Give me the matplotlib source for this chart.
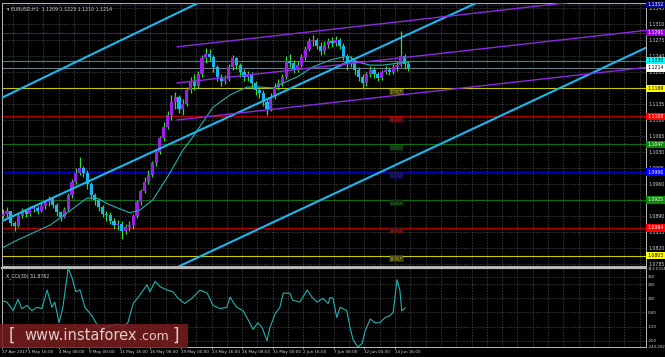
import matplotlib
matplotlib.use("Agg")
import matplotlib.pyplot as plt
import matplotlib.transforms as mtransforms
from matplotlib.patches import Rectangle

plt.rcParams["font.family"] = ["DejaVu Sans"]

BG = "#000000"
COL_GRID = "#505050"
COL_FRAME = "#b8b8b8"
COL_TEXT = "#d4d4d4"
COL_UP = "#9b1fe8"
COL_DN = "#1ab4f2"
COL_WICK = "#2ee02e"
COL_MA = "#22b2b2"
COL_CHAN = "#1ab8f0"
COL_PURP = "#8a2be2"

# EURUSD H1, grouped in 8-hour blocks (x = H1 bar index)
first_open = 1.0890
closes = [1.0895, 1.0900, 1.0875, 1.0868, 1.0890, 1.0900, 1.0895, 1.0905, 1.0908, 1.0902,
          1.0912, 1.0920, 1.0928, 1.0915, 1.0898, 1.0888, 1.0905, 1.0935, 1.0965, 1.0985,
          1.0995, 1.0985, 1.0960, 1.0935, 1.0925, 1.0910, 1.0895, 1.0892, 1.0880, 1.0870,
          1.0872, 1.0858, 1.0865, 1.0870, 1.0890, 1.0920, 1.0945, 1.0965, 1.0980, 1.1005,
          1.1030, 1.1060, 1.1085, 1.1110, 1.1140, 1.1150, 1.1125, 1.1135, 1.1165, 1.1185,
          1.1175, 1.1200, 1.1235, 1.1245, 1.1238, 1.1215, 1.1195, 1.1185, 1.1190, 1.1215,
          1.1235, 1.1220, 1.1205, 1.1195, 1.1200, 1.1180, 1.1165, 1.1158, 1.1140, 1.1125,
          1.1150, 1.1172, 1.1180, 1.1195, 1.1230, 1.1225, 1.1210, 1.1220, 1.1238, 1.1255,
          1.1272, 1.1275, 1.1262, 1.1250, 1.1265, 1.1272, 1.1268, 1.1275, 1.1262, 1.1240,
          1.1225, 1.1230, 1.1210, 1.1195, 1.1180, 1.1200, 1.1210, 1.1200, 1.1192, 1.1205,
          1.1210, 1.1205, 1.1215, 1.1220, 1.1240, 1.1222, 1.1214]
highs = [1.0905, 1.0910, 1.0902, 1.0880, 1.0896, 1.0908, 1.0906, 1.0912, 1.0915, 1.0912,
         1.0918, 1.0926, 1.0934, 1.0930, 1.0918, 1.0902, 1.0910, 1.0940, 1.0970, 1.0995,
         1.1020, 1.1000, 1.0990, 1.0965, 1.0940, 1.0930, 1.0915, 1.0900, 1.0898, 1.0885,
         1.0882, 1.0878, 1.0872, 1.0878, 1.0895, 1.0925, 1.0950, 1.0975, 1.0990, 1.1010,
         1.1036, 1.1065, 1.1095, 1.1120, 1.1155, 1.1162, 1.1155, 1.1145, 1.1172, 1.1195,
         1.1200, 1.1208, 1.1242, 1.1257, 1.1255, 1.1242, 1.1220, 1.1200, 1.1198, 1.1222,
         1.1242, 1.1238, 1.1225, 1.1212, 1.1208, 1.1205, 1.1185, 1.1172, 1.1165, 1.1148,
         1.1158, 1.1180, 1.1190, 1.1200, 1.1240, 1.1245, 1.1232, 1.1228, 1.1245, 1.1262,
         1.1280, 1.1286, 1.1280, 1.1270, 1.1272, 1.1280, 1.1282, 1.1284, 1.1280, 1.1268,
         1.1245, 1.1240, 1.1232, 1.1215, 1.1200, 1.1206, 1.1218, 1.1215, 1.1205, 1.1210,
         1.1218, 1.1215, 1.1222, 1.1226, 1.1295, 1.1245, 1.1230]
lows = [1.0885, 1.0888, 1.0868, 1.0858, 1.0865, 1.0885, 1.0888, 1.0890, 1.0898, 1.0895,
        1.0898, 1.0905, 1.0912, 1.0908, 1.0890, 1.0880, 1.0885, 1.0900, 1.0930, 1.0960,
        1.0980, 1.0975, 1.0950, 1.0928, 1.0915, 1.0900, 1.0888, 1.0880, 1.0872, 1.0862,
        1.0860, 1.0840, 1.0850, 1.0858, 1.0862, 1.0885, 1.0915, 1.0940, 1.0960, 1.0975,
        1.1000, 1.1025, 1.1055, 1.1080, 1.1100, 1.1125, 1.1115, 1.1110, 1.1130, 1.1160,
        1.1165, 1.1170, 1.1195, 1.1225, 1.1228, 1.1205, 1.1185, 1.1175, 1.1178, 1.1185,
        1.1210, 1.1212, 1.1195, 1.1185, 1.1185, 1.1170, 1.1155, 1.1148, 1.1130, 1.1111,
        1.1120, 1.1145, 1.1165, 1.1175, 1.1190, 1.1215, 1.1202, 1.1205, 1.1215, 1.1232,
        1.1250, 1.1262, 1.1255, 1.1242, 1.1245, 1.1258, 1.1260, 1.1262, 1.1255, 1.1232,
        1.1210, 1.1215, 1.1198, 1.1185, 1.1168, 1.1175, 1.1195, 1.1192, 1.1185, 1.1188,
        1.1200, 1.1198, 1.1200, 1.1208, 1.1215, 1.1212, 1.1208]

ma_bars = [10, 41, 110, 146, 187, 208, 236, 277, 298, 325, 361, 388, 409, 451, 487,
           522, 549, 577, 598, 627, 660, 696, 723, 738, 752, 780, 807, 842, 860]
ma_vals = [1.0820, 1.0837, 1.0870, 1.0897, 1.0929, 1.0929, 1.0914, 1.0897, 1.0903, 1.0925,
           1.0984, 1.1034, 1.1063, 1.1128, 1.1155, 1.1172, 1.1172, 1.1170, 1.1181, 1.1194,
           1.1216, 1.1231, 1.1238, 1.1238, 1.1227, 1.1220, 1.1220, 1.1225, 1.1225]

cci_bars = [10, 20, 33, 43, 51, 62, 72, 83, 93, 104, 114, 120, 129, 137, 148, 156, 164, 173,
            183, 198, 210, 221, 236, 250, 263, 273, 284, 298, 313, 319, 330, 340, 355, 367,
            378, 392, 407, 424, 439, 451, 466, 480, 487, 493, 501, 514, 522, 535, 545, 554,
            564, 570, 581, 591, 598, 612, 618, 633, 648, 658, 669, 681, 692, 696, 702, 710,
            717, 723, 731, 738, 744, 754, 763, 769, 780, 790, 800, 811, 821, 828, 836, 842,
            846, 853]
cci_vals = [82, 73, 12, 93, 27, 49, 12, 36, 27, 158, 36, 73, -73, 36, 313, 245, 146, 158,
            36, -24, -97, -109, -97, -83, -97, -73, 63, 122, 195, 146, 219, 182, 158, 146,
            100, 63, 100, 158, 136, 49, 27, 36, 109, 73, 36, 12, -36, -119, -73, -109,
            -200, -109, -10, 36, 136, 136, 85, 73, 158, 109, 73, 100, 63, 105, 100, -36,
            36, 27, 12, -109, -192, -244, -219, -134, -46, -73, -73, -36, -24, 0, 231, 158,
            12, 32]

# Murray levels
levels = [1.0803, 1.0864, 1.0925, 1.0986, 1.1047, 1.1108, 1.1169, 1.1230, 1.1291, 1.1352]
level_names = ["[1/8]P", "[2/8]P", "[3/8]P", "[4/8]P", "[5/8]P", "[6/8]P", "[7/8]P",
               "[8/8]P", "[+1/8]P", "[+2/8]P"]
level_line = ["#c8c800", "#b40000", "#106e10", "#0000c8", "#106e10", "#b40000", "#c8c800",
              "#00a0a0", "#4a1478", "#12126e"]
level_box = ["#ffff00", "#ff0000", "#0a8a0a", "#0000ff", "#0a8a0a", "#ff0000", "#ffff00",
             "#00ffff", "#9400d3", "#00008b"]
level_txt = ["#000000", "#ffffff", "#ffffff", "#ffffff", "#ffffff", "#ffffff", "#000000",
             "#000000", "#ffffff", "#ffffff"]
price_now = 1.1214

# channel anchors (bar, price)
blue_lines = [((10, 1.1149), (434, 1.1363)),
              ((10, 1.0879), (842, 1.1279)),
              ((378, 1.0779), (1357, 1.1258))]
purple_lines = [((376, 1.1260), (1357, 1.1376)),
                ((376, 1.1181), (1357, 1.1296)),
                ((376, 1.1100), (1357, 1.1215))]

price_ticks = [1.0785, 1.0820, 1.0855, 1.0890, 1.0925, 1.0960, 1.0995, 1.1030, 1.1065,
               1.1100, 1.1135, 1.1170, 1.1205, 1.1240, 1.1275, 1.1310, 1.1345]
cci_ticks = [313.5314, 250, 200, 100, 0, -100, -200, -244.202]
cci_labels = ["313.5314", "250", "200", "100", "0.00", "-100", "-200", "-244.202"]
time_bars = [10, 64, 128, 192, 256, 320, 384, 448, 512, 576, 640, 704, 768, 832]
time_labels = ["27 Apr 2017", "1 May 16:00", "4 May 08:00", "9 May 00:00", "11 May 16:00",
               "16 May 08:00", "19 May 00:00", "23 May 16:00", "26 May 08:00",
               "31 May 00:00", "2 Jun 16:00", "7 Jun 08:00", "12 Jun 00:00", "14 Jun 16:00"]

W, H = 665, 357
fig = plt.figure(figsize=(W / 100, H / 100), dpi=100, facecolor=BG)
ax = fig.add_axes([2 / W, (H - 266) / H, 644 / W, 263 / H], facecolor=BG)
axc = fig.add_axes([2 / W, (H - 347) / H, 644 / W, 79 / H], facecolor=BG, sharex=ax)

XMIN, XMAX = 9.6, 1357
ax.set_xlim(XMIN, XMAX)
ax.set_ylim(1.07806, 1.13559)

# grid
grid_x = list(range(32, 1357, 32))
for a in (ax, axc):
    for gx in grid_x:
        a.axvline(gx, color=COL_GRID, lw=0.5, ls=(0, (2, 2)), zorder=0)
    for s in a.spines.values():
        s.set_color(COL_FRAME)
        s.set_linewidth(0.7)
for t in price_ticks:
    ax.axhline(t, color=COL_GRID, lw=0.5, ls=(0, (2, 2)), zorder=0)

# level lines
for v, c in zip(levels, level_line):
    ax.axhline(v, color=c, lw=0.8, zorder=1)
ax.axhline(price_now, color="#6e7a86", lw=0.8, zorder=1)

# channels
for p1, p2 in blue_lines:
    ax.axline(p1, p2, color=COL_CHAN, lw=1.5, zorder=4)
for p1, p2 in purple_lines:
    ax.plot([p1[0], p2[0]], [p1[1], p2[1]], color=COL_PURP, lw=1.0, zorder=4)

# candles
bars = [12 + 8 * k for k in range(len(closes))]
opens = [first_open] + closes[:-1]
body_b = [min(o, c) for o, c in zip(opens, closes)]
body_h = [max(abs(c - o), 0.00012) for o, c in zip(opens, closes)]
body_c = [COL_UP if c >= o else COL_DN for o, c in zip(opens, closes)]
ax.vlines(bars, lows, highs, colors=COL_WICK, lw=0.9, zorder=2)
ax.bar(bars, body_h, bottom=body_b, width=6.5, color=body_c, linewidth=0, zorder=3)

ax.plot(ma_bars, ma_vals, color=COL_MA, lw=0.8, zorder=3)

# inline level labels
for v, c, n in zip(levels[:7], level_box[:7], level_names[:7]):
    ax.text(822, v - 0.0002, n, fontsize=2.8, color=c, va="top", ha="left", zorder=5,
            bbox=dict(boxstyle="square,pad=0.15", fc="#202020", ec=c, lw=0.3, alpha=0.9))

# right axis
ax.yaxis.tick_right()
ax.set_yticks(price_ticks)
ax.set_yticklabels([f"{t:.4f}" for t in price_ticks])
ax.tick_params(axis="y", labelsize=3.3, colors=COL_TEXT, length=0, pad=1.5)
ax.tick_params(axis="x", length=0, labelbottom=False)

trans = mtransforms.blended_transform_factory(ax.transAxes, ax.transData)
for v, fc, tc in zip(levels, level_box, level_txt):
    ax.text(1.002, v, f"{v:.4f}", transform=trans, fontsize=3.3, color=tc, va="center",
            ha="left", clip_on=False, zorder=6,
            bbox=dict(boxstyle="square,pad=0.25", fc=fc, ec="none"))
ax.text(1.002, price_now, f"{price_now:.4f}", transform=trans, fontsize=3.3, color="#000000",
        va="center", ha="left", clip_on=False, zorder=6,
        bbox=dict(boxstyle="square,pad=0.25", fc="#ffffff", ec="none"))

ax.text(0.008, 0.985, "\u25be EURUSD,H1  1.1209 1.1223 1.1210 1.1214", transform=ax.transAxes,
        fontsize=3.4, color=COL_TEXT, va="top", ha="left")

# CCI panel
axc.set_ylim(-244.202, 313.5314)
for t in cci_ticks[1:-1]:
    axc.axhline(t, color=COL_GRID, lw=0.5, ls=(0, (2, 2)), zorder=0)
axc.plot(cci_bars, cci_vals, color=COL_MA, lw=0.8, zorder=3)
axc.yaxis.tick_right()
axc.set_yticks(cci_ticks)
axc.set_yticklabels(cci_labels)
axc.tick_params(axis="y", labelsize=2.9, colors=COL_TEXT, length=0, pad=1.2)
axc.set_xticks(time_bars)
axc.set_xticklabels(time_labels)
axc.tick_params(axis="x", labelsize=3.0, colors=COL_TEXT, length=1.5, width=0.5, pad=1)
for lab in axc.get_xticklabels():
    lab.set_ha("left")
axc.spines["top"].set_linewidth(1.6)
axc.text(0.006, 0.93, "X_CCI(30) 31.8762", transform=axc.transAxes, fontsize=3.3,
         color=COL_TEXT, va="top", ha="left")

# watermark
fig.patches.append(Rectangle((0, 9 / H), 188 / W, 24 / H, transform=fig.transFigure,
                             fc="#7a1e1e", ec="none", alpha=0.85, zorder=10))
wm = dict(color="#e2cccc", va="center", ha="left", zorder=11)
fig.text(9 / W, 21 / H, "[", fontsize=12, **wm)
fig.text(24 / W, 21 / H, "www.instaforex", fontsize=10.5, **wm)
fig.text(139 / W, 20 / H, ".com", fontsize=9, **wm)
fig.text(172 / W, 21 / H, "]", fontsize=12, **wm)

fig.savefig("out.png", dpi=100, facecolor=BG)
